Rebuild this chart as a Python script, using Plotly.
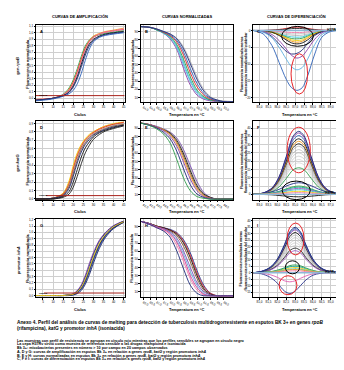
import plotly.graph_objects as go

W, H = 344, 370

# ---------------- DATA ----------------
# Amplification (cycles)
CYC = [1, 5, 10, 15, 18, 20, 22, 24, 26, 28, 30, 33, 36, 40, 45]
A_CURVES = {
    "verde":   [-0.03, -0.02, 0.00, 0.06, 0.16, 0.28, 0.45, 0.64, 0.80, 0.89, 0.94, 0.97, 0.99, 1.01, 1.03],
    "naranja": [-0.02, -0.01, 0.00, 0.05, 0.14, 0.25, 0.41, 0.60, 0.77, 0.88, 0.95, 0.99, 1.02, 1.04, 1.07],
    "rojo":    [-0.03, -0.02, 0.00, 0.05, 0.13, 0.24, 0.40, 0.59, 0.76, 0.87, 0.93, 0.98, 1.01, 1.03, 1.05],
    "rosa":    [-0.02, -0.01, 0.00, 0.05, 0.12, 0.22, 0.38, 0.57, 0.74, 0.86, 0.93, 0.98, 1.01, 1.03, 1.06],
    "negro":   [-0.03, -0.02, 0.00, 0.04, 0.10, 0.19, 0.33, 0.52, 0.70, 0.83, 0.90, 0.95, 0.98, 1.00, 1.02],
    "marino":  [-0.03, -0.02, 0.00, 0.04, 0.09, 0.17, 0.30, 0.48, 0.66, 0.80, 0.88, 0.94, 0.97, 0.99, 1.01],
    "azul":    [-0.04, -0.03, -0.01, 0.03, 0.07, 0.12, 0.22, 0.38, 0.58, 0.75, 0.86, 0.93, 0.96, 0.98, 1.00],
}
D_CURVES = {
    "amarillo": [0.0, 0.0, 0.01, 0.07, 0.22, 0.40, 0.55, 0.65, 0.72, 0.77, 0.80, 0.84, 0.87, 0.90, 0.92],
    "naranja":  [0.0, 0.0, 0.01, 0.06, 0.20, 0.37, 0.53, 0.64, 0.71, 0.76, 0.80, 0.84, 0.87, 0.89, 0.915],
    "rojo":     [0.0, 0.0, 0.01, 0.06, 0.18, 0.35, 0.51, 0.62, 0.70, 0.75, 0.79, 0.83, 0.86, 0.89, 0.91],
    "gris":     [0.0, 0.0, 0.01, 0.05, 0.17, 0.33, 0.49, 0.61, 0.69, 0.74, 0.78, 0.82, 0.85, 0.88, 0.90],
    "marron":   [0.0, 0.0, 0.01, 0.05, 0.15, 0.30, 0.46, 0.59, 0.67, 0.73, 0.77, 0.81, 0.84, 0.87, 0.89],
    "marino":   [0.0, 0.0, 0.01, 0.04, 0.13, 0.27, 0.43, 0.56, 0.65, 0.71, 0.76, 0.80, 0.83, 0.86, 0.88],
    "negro":    [0.0, 0.0, 0.00, 0.03, 0.09, 0.20, 0.35, 0.50, 0.61, 0.68, 0.74, 0.79, 0.82, 0.85, 0.88],
    "negro2":   [0.0, 0.0, 0.00, 0.02, 0.06, 0.14, 0.27, 0.42, 0.55, 0.64, 0.71, 0.77, 0.81, 0.84, 0.87],
}
G_CURVES = {
    "azul":     [0.0, 0.0, 0.0, 0.0, 0.00, 0.01, 0.04, 0.10, 0.21, 0.37, 0.55, 0.78, 0.94, 1.07, 1.16],
    "marino3":  [0.0, 0.0, 0.0, 0.0, 0.00, 0.01, 0.03, 0.08, 0.18, 0.33, 0.51, 0.75, 0.92, 1.06, 1.16],
    "negro":    [0.0, 0.0, 0.0, 0.0, 0.01, 0.02, 0.06, 0.12, 0.24, 0.41, 0.59, 0.81, 0.96, 1.08, 1.17],
    "marino2":  [0.0, 0.0, 0.0, 0.0, 0.01, 0.02, 0.05, 0.11, 0.23, 0.40, 0.58, 0.80, 0.95, 1.08, 1.17],
    "morado":   [0.0, 0.0, 0.0, 0.0, 0.01, 0.03, 0.08, 0.17, 0.32, 0.51, 0.68, 0.88, 1.00, 1.11, 1.18],
    "marino":   [0.0, 0.0, 0.0, 0.0, 0.01, 0.02, 0.07, 0.15, 0.29, 0.47, 0.65, 0.86, 0.99, 1.10, 1.18],
    "amarillo": [0.0, 0.0, 0.0, 0.0, 0.01, 0.02, 0.06, 0.13, 0.26, 0.43, 0.61, 0.83, 0.97, 1.09, 1.17],
}
THRESHOLD = {"A": 0.04, "D": 0.04, "G": 0.04}
THRESHOLD_START = {"A": 1.5, "D": 6.5, "G": 5.5}

# Normalized curves (temperature, °C)
TB = [83.8, 84.5, 85.0, 85.5, 86.0, 86.5, 87.0, 87.5, 88.0, 88.5, 89.0, 89.5, 90.0, 90.7]
B_CURVES = {
    "morado":    [96, 95, 92, 88, 81, 68, 45, 25, 13, 8, 6, 5, 5, 5],
    "celeste":   [96, 95, 92, 88, 82, 70, 49, 29, 15, 9, 7, 6, 5, 5],
    "cian":      [96, 95, 92, 88, 83, 72, 52, 31, 17, 10, 7, 6, 5, 5],
    "verde":     [96, 95, 92, 89, 84, 74, 56, 35, 19, 11, 7, 6, 5, 5],
    "rojo":      [96, 95, 93, 89, 85, 77, 61, 40, 23, 13, 8, 6, 5, 5],
    "azul":      [96, 95, 93, 90, 86, 79, 65, 45, 27, 15, 9, 6, 5, 5],
    "gris":      [96, 95, 93, 90, 87, 82, 71, 54, 35, 20, 11, 7, 6, 5],
    "marino":    [96, 95, 93, 90, 87, 81, 69, 51, 32, 18, 10, 7, 5, 5],
}
TE = [81.8, 82.5, 83.0, 83.5, 84.0, 84.5, 85.0, 85.5, 86.0, 86.5, 87.0, 87.5, 88.0, 88.7]
E_CURVES = {
    "violeta":  [96, 94, 92, 89, 85, 78, 64, 45, 26, 13, 7, 5, 5, 5],
    "gris":     [96, 94, 92, 89, 85, 77, 62, 42, 24, 12, 7, 5, 5, 5],
    "negro":    [96, 94, 91, 88, 84, 75, 59, 39, 21, 11, 7, 5, 5, 5],
    "marron":   [96, 94, 91, 88, 83, 73, 56, 36, 19, 10, 6, 5, 5, 5],
    "naranja":  [96, 94, 91, 88, 82, 71, 53, 33, 17, 9, 6, 5, 5, 5],
    "morado":   [96, 94, 91, 87, 80, 68, 49, 29, 15, 8, 6, 5, 5, 5],
    "marino":   [96, 93, 90, 85, 77, 62, 41, 22, 11, 7, 5, 5, 5, 5],
    "verde":    [96, 93, 89, 83, 72, 52, 30, 15, 8, 6, 5, 5, 5, 5],
}
TH = [79.8, 80.5, 81.0, 81.5, 82.0, 82.5, 83.0, 83.5, 84.0, 84.5, 85.0, 85.5, 86.0, 86.7]
H_CURVES = {
    "marino2":  [97, 94, 91, 89, 87, 83, 74, 58, 36, 18, 8, 5, 5, 5],
    "rojo":     [97, 94, 91, 89, 86, 82, 72, 55, 33, 16, 8, 5, 5, 5],
    "negro":    [97, 94, 91, 89, 86, 81, 70, 52, 30, 14, 7, 5, 5, 5],
    "marron":   [97, 94, 91, 88, 85, 79, 66, 47, 26, 12, 6, 5, 5, 5],
    "violeta":  [97, 94, 90, 88, 84, 76, 60, 40, 21, 10, 6, 5, 5, 5],
    "celeste":  [97, 93, 90, 87, 83, 73, 56, 35, 18, 8, 5, 5, 5, 5],
    "magenta":  [97, 93, 90, 87, 82, 71, 52, 30, 15, 7, 5, 5, 5, 5],
    "rosa":     [97, 93, 89, 86, 80, 67, 47, 26, 12, 6, 5, 5, 5, 5],
    "marino":   [97, 93, 89, 85, 77, 60, 38, 18, 8, 5, 5, 5, 5, 5],
}

# Difference curves
TC = [84.65, 85.2, 85.7, 86.1, 86.5, 86.8, 87.1, 87.4, 87.7, 88.1, 88.5, 89.0, 89.8]
C_CURVES = {
    "gris":     [0, -0.1, -0.4, -0.8, -1.2, -1.4, -1.5, -1.4, -1.1, -0.5, -0.2, 0, 0],
    "gris2":    [0, 0, -0.2, -0.5, -0.8, -1.0, -1.0, -0.9, -0.7, -0.3, -0.1, 0, 0],
    "rosa":     [0, 0, -0.1, -0.3, -0.5, -0.6, -0.6, -0.6, -0.4, -0.2, 0, 0, 0],
    "cian":     [0, -0.1, -0.4, -1.0, -1.6, -1.9, -2.0, -1.9, -1.4, -0.6, -0.2, 0, 0],
    "verde":    [0, -0.2, -0.6, -1.2, -1.9, -2.4, -2.5, -2.3, -1.7, -0.8, -0.2, 0, 0],
    "amarillo": [0, -0.2, -0.6, -1.3, -2.2, -2.8, -3.0, -2.8, -2.0, -0.9, -0.2, 0, 0],
    "naranja":  [0, -0.1, -0.4, -1.2, -2.4, -3.2, -3.5, -3.2, -2.3, -1.0, -0.3, 0, 0],
    "negro":    [0, -0.1, -0.5, -1.5, -2.8, -3.7, -4.0, -3.7, -2.8, -1.2, -0.3, 0, 0],
    "rojo":     [0, 0, 0.1, 0.3, 0.6, 0.9, 1.0, 0.9, 0.6, 0.3, 0.1, 0, 0],
    "negro2":   [0, 0, 0.1, 0.2, 0.4, 0.55, 0.6, 0.55, 0.4, 0.2, 0.05, 0, 0],
    "marino":   [0, -0.4, -1.8, -4.0, -6.2, -7.0, -6.8, -5.8, -3.8, -1.5, -0.4, 0, 0],
    "morado":   [0, -0.3, -1.2, -3.0, -5.5, -7.4, -8.2, -7.6, -5.6, -2.6, -0.7, -0.1, 0],
    "celeste":  [0, -0.5, -2.2, -5.0, -8.5, -10.8, -11.7, -11.0, -8.5, -4.2, -1.2, -0.2, 0],
    "azul":     [0, -1.0, -4.5, -9.5, -14.5, -17.0, -17.8, -17.0, -13.5, -7.0, -2.0, -0.3, 0],
    "H37Rv":    [0, 0, 0, 0, 0, 0, 0, 0, 0, 0, 0, 0, 0],
}
TF = [82.65, 83.2, 83.7, 84.1, 84.5, 84.9, 85.2, 85.5, 85.9, 86.3, 86.7, 87.2, 87.8]
F_CURVES = {
    "gris6":    [0, 0.4, 1.9, 5.3, 11.4, 17.7, 19.0, 17.7, 11.4, 5.3, 1.9, 0.4, 0],
    "gris5":    [0, 0.4, 2.1, 5.9, 12.6, 19.5, 21.0, 19.5, 12.6, 5.9, 2.1, 0.4, 0],
    "gris4":    [0, 0.5, 2.3, 6.4, 13.8, 21.4, 23.0, 21.4, 13.8, 6.4, 2.3, 0.5, 0],
    "gris3":    [0, 0.5, 2.5, 7.0, 15.0, 23.3, 25.0, 23.3, 15.0, 7.0, 2.5, 0.5, 0],
    "gris2":    [0, 0.5, 2.7, 7.6, 16.2, 25.1, 27.0, 25.1, 16.2, 7.6, 2.7, 0.5, 0],
    "gris":     [0, 0.6, 2.9, 8.1, 17.4, 27.0, 29.0, 27.0, 17.4, 8.1, 2.9, 0.6, 0],
    "negro2":   [0, 0.6, 3.1, 8.5, 18.3, 28.4, 30.5, 28.4, 18.3, 8.5, 3.1, 0.6, 0],
    "naranja":  [0, 0.6, 3.2, 9.0, 19.2, 29.8, 32.0, 29.8, 19.2, 9.0, 3.2, 0.6, 0],
    "negro":    [0, 0.7, 3.4, 9.4, 20.1, 31.2, 33.5, 31.2, 20.1, 9.4, 3.4, 0.7, 0],
    "azul":     [0, 0.7, 3.6, 9.9, 21.3, 33.0, 35.5, 33.0, 21.3, 9.9, 3.6, 0.7, 0],
    "morado":   [0, 0.7, 3.7, 10.4, 22.2, 34.4, 37.0, 34.4, 22.2, 10.4, 3.7, 0.7, 0],
    "marino":   [0, 0.8, 3.8, 10.6, 22.8, 35.3, 38.0, 35.3, 22.8, 10.6, 3.8, 0.8, 0],
    "verde":    [0, 0.3, 1.6, 4.5, 9.6, 14.9, 16.0, 14.9, 9.6, 4.5, 1.6, 0.3, 0],
    "marino2":  [0, 0.5, 1.5, 3.0, 5.0, 6.5, 7.0, 6.6, 5.2, 3.2, 1.6, 0.5, 0],
    "verde2":   [0, 0.2, 0.8, 1.8, 3.3, 4.6, 5.0, 4.6, 3.3, 1.8, 0.8, 0.2, 0],
    "turquesa": [0, 0.2, 0.7, 1.6, 2.9, 4.0, 4.3, 4.0, 2.9, 1.6, 0.7, 0.2, 0],
    "morado2":  [0, 0.1, 0.5, 1.3, 2.4, 3.3, 3.6, 3.3, 2.4, 1.3, 0.5, 0.1, 0],
    "cian":     [0, 0.1, 0.4, 1.0, 1.9, 2.6, 2.8, 2.6, 1.9, 1.0, 0.4, 0.1, 0],
    "amarillo": [0, 0.1, 0.3, 0.7, 1.2, 1.7, 1.8, 1.7, 1.2, 0.7, 0.3, 0.1, 0],
    "rosa":     [0, 0.05, 0.2, 0.4, 0.7, 0.9, 1.0, 0.9, 0.7, 0.4, 0.2, 0.05, 0],
    "negro3":   [0, -0.1, -0.3, -0.7, -1.1, -1.4, -1.5, -1.4, -1.1, -0.7, -0.3, -0.1, 0],
    "H37Rv":    [0, 0, 0, 0, 0, 0, 0, 0, 0, 0, 0, 0, 0],
}
TI = [80.65, 81.1, 81.6, 82.0, 82.4, 82.7, 83.0, 83.3, 83.6, 84.0, 84.4, 84.9, 85.8]
I_CURVES = {
    "gris5":    [0, 0.6, 2.5, 6.3, 13.0, 18.9, 21.0, 18.9, 13.0, 6.3, 2.5, 0.6, 0],
    "gris4":    [0, 0.7, 2.8, 6.9, 14.3, 20.7, 23.0, 20.7, 14.3, 6.9, 2.8, 0.7, 0],
    "gris3":    [0, 0.8, 3.0, 7.5, 15.5, 22.5, 25.0, 22.5, 15.5, 7.5, 3.0, 0.8, 0],
    "gris2":    [0, 0.8, 3.2, 8.1, 16.7, 24.3, 27.0, 24.3, 16.7, 8.1, 3.2, 0.8, 0],
    "gris":     [0, 0.9, 3.5, 8.7, 18.0, 26.1, 29.0, 26.1, 18.0, 8.7, 3.5, 0.9, 0],
    "negro2":   [0, 0.6, 2.3, 5.7, 11.8, 17.1, 19.0, 17.1, 11.8, 5.7, 2.3, 0.6, 0],
    "morado2":  [0, 0.5, 2.0, 5.1, 10.5, 15.3, 17.0, 15.3, 10.5, 5.1, 2.0, 0.5, 0],
    "negro":    [0, 0.9, 3.7, 9.3, 19.2, 27.9, 31.0, 27.9, 19.2, 9.3, 3.7, 0.9, 0],
    "morado":   [0, 1.0, 4.0, 9.9, 20.5, 29.7, 33.0, 29.7, 20.5, 9.9, 4.0, 1.0, 0],
    "azul":     [0, 1.0, 4.1, 10.2, 21.1, 30.6, 34.0, 30.6, 21.1, 10.2, 4.1, 1.0, 0],
    "marino":   [0, 1.0, 4.2, 10.5, 21.7, 31.5, 35.0, 31.5, 21.7, 10.5, 4.2, 1.0, 0],
    "verde":    [0, 0.2, 0.8, 2.0, 3.8, 5.5, 6.0, 5.4, 3.7, 1.8, 0.7, 0.2, 0],
    "turquesa": [0, 0.2, 0.7, 1.6, 3.2, 4.6, 5.0, 4.5, 3.1, 1.5, 0.6, 0.1, 0],
    "amarillo": [0, 0.1, 0.5, 1.3, 2.5, 3.6, 4.0, 3.6, 2.5, 1.2, 0.5, 0.1, 0],
    "cian":     [0, 0.1, 0.4, 1.0, 1.9, 2.7, 3.0, 2.7, 1.9, 0.9, 0.4, 0.1, 0],
    "naranja":  [0, 0.1, 0.3, 0.8, 1.6, 2.3, 2.5, 2.3, 1.6, 0.8, 0.3, 0.1, 0],
    "rosa":     [0, 0.05, 0.2, 0.5, 0.9, 1.4, 1.5, 1.4, 0.9, 0.5, 0.2, 0.05, 0],
    "rosa_d":   [0, -0.35, -1.5, -3.5, -6.2, -7.0, -6.2, -4.3, -2.5, -0.8, -0.2, 0, 0],
    "marino_d": [0, -0.8, -3.5, -8.0, -14.1, -16.0, -14.1, -9.9, -5.6, -1.9, -0.5, 0, 0],
    "H37Rv":    [0, 0, 0, 0, 0, 0, 0, 0, 0, 0, 0, 0, 0],
}

# Groups circled: (panel, colour, x0, x1, y0, y1) in data units
ELLIPSES = [
    ("C", "black", 86.24, 88.02, -4.7, 1.2),
    ("C", "red", 86.77, 87.70, -18.9, -6.9),
    ("F", "red", 84.55, 85.85, 13.0, 40.5),
    ("F", "black", 84.27, 85.85, -3.2, 8.0),
    ("I", "red", 82.55, 83.50, 13.7, 38.3),
    ("I", "black", 82.45, 83.25, -0.8, 9.2),
    ("I", "red", 82.10, 83.10, -16.9, -2.3),
]

HEADERS = ["CURVAS DE AMPLIFICACIÓN", "CURVAS NORMALIZADAS", "CURVAS DE DIFERENCIACIÓN"]
ROW_LABELS = ["gen <i>rpoB</i>", "gen <i>katG</i>", "promotor <i>inhA</i>"]
CAPTION_TITLE = [
    "Anexo 4. Perfil del análisis de curvas de melting para detección de tuberculosis multidrogorresistente en esputos BK 3+ en genes <i>rpoB</i>",
    "(rifampicina), <i>katG</i> y promotor <i>inhA</i> (isoniacida)",
]
CAPTION_NOTES = [
    "Las muestras con perfil de resistencia se agrupan en círculo rojo mientras que los perfiles sensibles se agrupan en círculo negro",
    "La cepa H37Rv sirvió como muestra de referencia sensible a las drogas rifampicina e isoniacida",
    "Bk 3+: micobacterias presentes en número > 10 por campo en 20 campos observados",
    "A, D y G: curvas de amplificación en esputos Bk 3+ en relación a genes <i>rpoB</i>, <i>katG</i> y región promotora <i>inhA</i>",
    "B, E y H: curvas normalizadas en esputos Bk 3+ en relación a genes <i>rpoB</i>, <i>katG</i> y región promotora <i>inhA</i>",
    "C, F e I: curvas de diferenciación en esputos Bk 3+ en relación a genes <i>rpoB</i>, <i>katG</i> y región promotora <i>inhA</i>",
]

# ---------------- STYLE ----------------
COLOR = {
    "verde": "#2e9b4a", "verde2": "#3aa845", "naranja": "#f39a1e", "rojo": "#e3262a",
    "rosa": "#f07aa8", "negro": "#111111", "negro2": "#222222", "negro3": "#111111",
    "marino": "#1d2a78", "marino2": "#24308a", "marino3": "#1a2466", "azul": "#2f62b8",
    "amarillo": "#f2cf12", "gris": "#9c9c9c", "gris2": "#a8a8a8", "gris3": "#b2b2b2",
    "gris4": "#bcbcbc", "gris5": "#c4c4c4", "gris6": "#cccccc", "marron": "#8a5a2e",
    "morado": "#8b3fa8", "morado2": "#9d59c0", "violeta": "#7b4bb8", "celeste": "#5fb0e0",
    "cian": "#38c6d6", "turquesa": "#17a89a", "magenta": "#d23b97",
    "rosa_d": "#e05fb0", "marino_d": "#2b3590", "H37Rv": "#8fb8d8",
}
FONT = "Liberation Sans, Arial, sans-serif"
COLS = [(28, 117), (133, 226), (246, 338)]
ROWS = [(16, 94), (113, 192), (211, 290)]


def rng(a, b, s):
    out, v = [], a
    while v <= b + 1e-9:
        out.append(round(v, 4))
        v += s
    return out


PANELS = {
    "A": dict(idx=1, r=0, c=0, x=CYC, curves=A_CURVES, xr=[1.5, 45.5], yr=[-0.065, 1.12],
              xt=rng(5, 45, 5), yt=rng(0, 1.1, 0.1), xf="d", yf=".1f"),
    "B": dict(idx=2, r=0, c=1, x=TB, curves=B_CURVES, xr=[83.8, 90.7], yr=[4, 98],
              xt=rng(84, 90, 0.5), yt=rng(10, 90, 10), xf=".1f", yf="d"),
    "C": dict(idx=3, r=0, c=2, x=TC, curves=C_CURVES, xr=[84.65, 89.8], yr=[-21.4, 1.65],
              xt=rng(85, 89.5, 0.5), yt=[0, -5, -10, -15, -20], xf=".1f", yf="d"),
    "D": dict(idx=4, r=1, c=0, x=CYC, curves=D_CURVES, xr=[1.5, 45.5], yr=[-0.012, 0.925],
              xt=rng(5, 45, 5), yt=rng(0, 0.9, 0.1), xf="d", yf=".1f"),
    "E": dict(idx=5, r=1, c=1, x=TE, curves=E_CURVES, xr=[81.8, 88.7], yr=[4, 98],
              xt=rng(82, 88, 0.5), yt=rng(10, 90, 10), xf=".1f", yf="d"),
    "F": dict(idx=6, r=1, c=2, x=TF, curves=F_CURVES, xr=[82.65, 87.8], yr=[-3.4, 44],
              xt=rng(83, 87.5, 0.5), yt=rng(0, 40, 5), xf=".1f", yf="d"),
    "G": dict(idx=7, r=2, c=0, x=CYC, curves=G_CURVES, xr=[1.5, 45.5], yr=[-0.03, 1.215],
              xt=rng(5, 45, 5), yt=rng(0, 1.2, 0.1), xf="d", yf=".1f"),
    "H": dict(idx=8, r=2, c=1, x=TH, curves=H_CURVES, xr=[79.8, 86.7], yr=[3, 100],
              xt=rng(80, 86, 0.5), yt=rng(10, 90, 10), xf=".1f", yf="d"),
    "I": dict(idx=9, r=2, c=2, x=TI, curves=I_CURVES, xr=[80.65, 85.8], yr=[-19, 41.5],
              xt=rng(81, 85.5, 0.5), yt=rng(-15, 40, 5), xf=".1f", yf="d"),
}

fig = go.Figure()
layout = dict(width=W, height=H, margin=dict(l=0, r=0, t=0, b=0),
              paper_bgcolor="white", plot_bgcolor="white", showlegend=False,
              separators=",.", font=dict(family=FONT, size=3, color="black"))
annotations = []
shapes = []


def px2x(p):
    return p / W


def px2y(p):
    return 1 - p / H


for name, P in PANELS.items():
    i = P["idx"]
    xa = "x" if i == 1 else f"x{i}"
    ya = "y" if i == 1 else f"y{i}"
    c0, c1 = COLS[P["c"]]
    r0, r1 = ROWS[P["r"]]
    common = dict(showline=True, mirror=True, linecolor="black", linewidth=1,
                  showgrid=True, gridcolor="#cfcfcf", gridwidth=0.5, zeroline=False,
                  ticks="outside", ticklen=1.2, tickwidth=0.5, tickcolor="black",
                  tickfont=dict(family=FONT, size=3, color="black"))
    layout["xaxis" if i == 1 else f"xaxis{i}"] = dict(
        domain=[px2x(c0), px2x(c1)], range=P["xr"], tickvals=P["xt"], tickformat=P["xf"],
        anchor=ya, **common)
    layout["yaxis" if i == 1 else f"yaxis{i}"] = dict(
        domain=[px2y(r1), px2y(r0)], range=P["yr"], tickvals=P["yt"], tickformat=P["yf"],
        anchor=xa, **common)

    for key, ys in P["curves"].items():
        w = 0.6 if key.startswith("gris") else 0.9
        if key == "H37Rv":
            w = 1.4
        fig.add_trace(go.Scatter(x=P["x"], y=ys, mode="lines", xaxis=xa, yaxis=ya,
                                 line=dict(color=COLOR[key], width=w, shape="spline", smoothing=0.9),
                                 hoverinfo="skip"))
    if name in THRESHOLD:
        t = THRESHOLD[name]
        fig.add_trace(go.Scatter(x=[THRESHOLD_START[name], P["xr"][1]], y=[t, t], mode="lines",
                                 xaxis=xa, yaxis=ya, line=dict(color="#a8231c", width=1),
                                 hoverinfo="skip"))
        annotations.append(dict(x=P["xr"][0] + 0.4, y=t, xref=xa, yref=ya, text="<b>Umbral</b>",
                                showarrow=False, xanchor="left", yanchor="middle",
                                font=dict(size=2.4, color="black", family=FONT)))
    # panel letter
    annotations.append(dict(x=px2x(c0 + 2), y=px2y(r0 + 2), xref="paper", yref="paper",
                            text=f"<b>{name}</b>", showarrow=False, xanchor="left", yanchor="top",
                            font=dict(size=4, family=FONT)))
    # x-axis title
    xt = "Ciclos" if P["c"] == 0 else "Temperatura en °C"
    annotations.append(dict(x=px2x((c0 + c1) / 2), y=px2y(r1 + 12), xref="paper", yref="paper",
                            text=f"<b>{xt}</b>", showarrow=False, xanchor="center", yanchor="middle",
                            font=dict(size=4, family=FONT)))
    # y-axis title
    if P["c"] < 2:
        annotations.append(dict(x=px2x(c0 - 8), y=px2y((r0 + r1) / 2), xref="paper", yref="paper",
                                text="<b>Fluorescencia normalizada</b>", textangle=-90,
                                showarrow=False, xanchor="center", yanchor="middle",
                                font=dict(size=3.8, family=FONT)))
    else:
        annotations.append(dict(x=px2x(c0 - 10), y=px2y((r0 + r1) / 2), xref="paper", yref="paper",
                                text="<b>Fluorescencia normalizada menos<br>fluorescencia normalizada del estándar</b>",
                                textangle=-90, showarrow=False, xanchor="center", yanchor="middle",
                                font=dict(size=3.4, family=FONT)))

# H37Rv labels
for name, (px, py) in {"C": (333, 21), "F": (331, 185), "I": (331, 264)}.items():
    annotations.append(dict(x=px2x(px), y=px2y(py), xref="paper", yref="paper", text="<b>H37Rv</b>",
                            showarrow=False, xanchor="right", yanchor="middle",
                            font=dict(size=3.4, family=FONT)))

for (name, col, x0, x1, y0, y1) in ELLIPSES:
    i = PANELS[name]["idx"]
    shapes.append(dict(type="circle", xref=f"x{i}", yref=f"y{i}", x0=x0, x1=x1, y0=y0, y1=y1,
                       line=dict(color="#e8262a" if col == "red" else "black", width=1)))

# headers
for k, txt in enumerate(HEADERS):
    c0, c1 = COLS[k]
    annotations.append(dict(x=px2x((c0 + c1) / 2 + (-3 if k == 2 else 0)), y=px2y(8), xref="paper",
                            yref="paper", text=f"<b>{txt}</b>", showarrow=False,
                            xanchor="center", yanchor="middle", font=dict(size=4, family=FONT)))
# row labels
for k, txt in enumerate(ROW_LABELS):
    r0, r1 = ROWS[k]
    annotations.append(dict(x=px2x(10), y=px2y((r0 + r1) / 2 + 2), xref="paper", yref="paper",
                            text=f"<b>{txt}</b>", textangle=-90, showarrow=False,
                            xanchor="center", yanchor="middle", font=dict(size=4, family=FONT)))
# caption
for k, txt in enumerate(CAPTION_TITLE):
    annotations.append(dict(x=px2x(7), y=px2y(315 + 6.2 * k), xref="paper", yref="paper",
                            text=f"<b>{txt}</b>", showarrow=False, xanchor="left", yanchor="middle",
                            font=dict(size=4.75, family=FONT)))
for k, txt in enumerate(CAPTION_NOTES):
    annotations.append(dict(x=px2x(7), y=px2y(333.5 + 3.75 * k), xref="paper", yref="paper",
                            text=f"<b>{txt}</b>", showarrow=False, xanchor="left", yanchor="middle",
                            font=dict(size=3.7, family=FONT)))

layout["annotations"] = annotations
layout["shapes"] = shapes
fig.update_layout(**layout)
fig.write_html("out.html")
